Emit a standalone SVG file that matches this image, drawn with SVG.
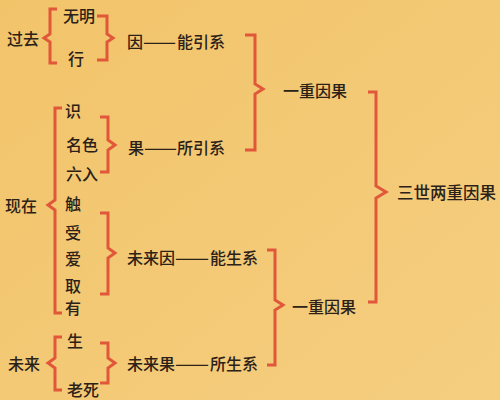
<svg xmlns="http://www.w3.org/2000/svg" width="500" height="400" viewBox="0 0 500 400">
<style>
.t{font-family:"Noto Sans CJK SC","Noto Sans CJK JP",sans-serif;font-size:16px;font-weight:500;fill:#2b2118;dominant-baseline:central}
.b{fill:none;stroke:#E0573A;stroke-width:3;stroke-linejoin:miter;stroke-linecap:butt}
</style>
<defs>
<linearGradient id="bg" x1="0" y1="0" x2="1" y2="1">
<stop offset="0" stop-color="#F2C46A"/>
<stop offset="1" stop-color="#F5CE80"/>
</linearGradient>
</defs>
<rect width="500" height="400" fill="url(#bg)"/>
<g id="connectors">
<path class="b" d="M57,9 L50,9 L50,34 L44,38 L50,42 L50,63 L57,63"/>
<path class="b" d="M97,16 L107,16 L107,34 L113,38 L107,42 L107,60 L97,60"/>
<path class="b" d="M62,108 L55,108 L55,200 L48,205 L55,210 L55,313 L62,313"/>
<path class="b" d="M100,117 L108,117 L108,140 L115,145 L108,150 L108,172 L100,172"/>
<path class="b" d="M100,213 L108,213 L108,248 L115,253 L108,258 L108,294 L100,294"/>
<path class="b" d="M62,337 L55,337 L55,358 L48,363 L55,368 L55,390 L62,390"/>
<path class="b" d="M100,343 L108,343 L108,358 L115,363 L108,368 L108,383 L100,383"/>
<path class="b" d="M245,35 L255,35 L255,84 L263,89 L255,94 L255,150 L245,150"/>
<path class="b" d="M267,250 L275,250 L275,300 L283,305 L275,310 L275,365 L267,365"/>
<path class="b" d="M368,92 L376,92 L376,186 L386,192 L376,198 L376,302 L368,302"/>
</g>
<g id="past"><text class="t" x="7" y="38">过去</text></g>
<g id="wuming"><text class="t" x="63" y="15">无明</text></g>
<g id="xing"><text class="t" x="68" y="58">行</text></g>
<g id="yin"><text class="t" x="127" y="41">因<tspan x="143" textLength="33" lengthAdjust="spacingAndGlyphs">——</tspan><tspan x="177">能引系</tspan></text></g>
<g id="shi"><text class="t" x="65" y="110">识</text></g>
<g id="mingse"><text class="t" x="66" y="144">名色</text></g>
<g id="liuru"><text class="t" x="66" y="173">六入</text></g>
<g id="guo"><text class="t" x="128" y="147">果<tspan x="144" textLength="33" lengthAdjust="spacingAndGlyphs">——</tspan><tspan x="177">所引系</tspan></text></g>
<g id="present"><text class="t" x="5" y="205">现在</text></g>
<g id="chu"><text class="t" x="65" y="203">触</text></g>
<g id="shou"><text class="t" x="65" y="232">受</text></g>
<g id="ai"><text class="t" x="65" y="258">爱</text></g>
<g id="qu"><text class="t" x="65" y="285">取</text></g>
<g id="you"><text class="t" x="65" y="307">有</text></g>
<g id="weilaiyin"><text class="t" x="127" y="257">未来因<tspan x="175" textLength="34" lengthAdjust="spacingAndGlyphs">——</tspan><tspan x="210">能生系</tspan></text></g>
<g id="future"><text class="t" x="8" y="363">未来</text></g>
<g id="sheng"><text class="t" x="67" y="340">生</text></g>
<g id="laosi"><text class="t" x="67" y="389">老死</text></g>
<g id="weilaiguo"><text class="t" x="127" y="363">未来果<tspan x="175" textLength="34" lengthAdjust="spacingAndGlyphs">——</tspan><tspan x="210">所生系</tspan></text></g>
<g id="yichong1"><text class="t" x="283" y="90">一重因果</text></g>
<g id="yichong2"><text class="t" x="292" y="306">一重因果</text></g>
<g id="sanshi"><text class="t" x="397" y="192" style="font-size:16.5px">三世两重因果</text></g>
</svg>
